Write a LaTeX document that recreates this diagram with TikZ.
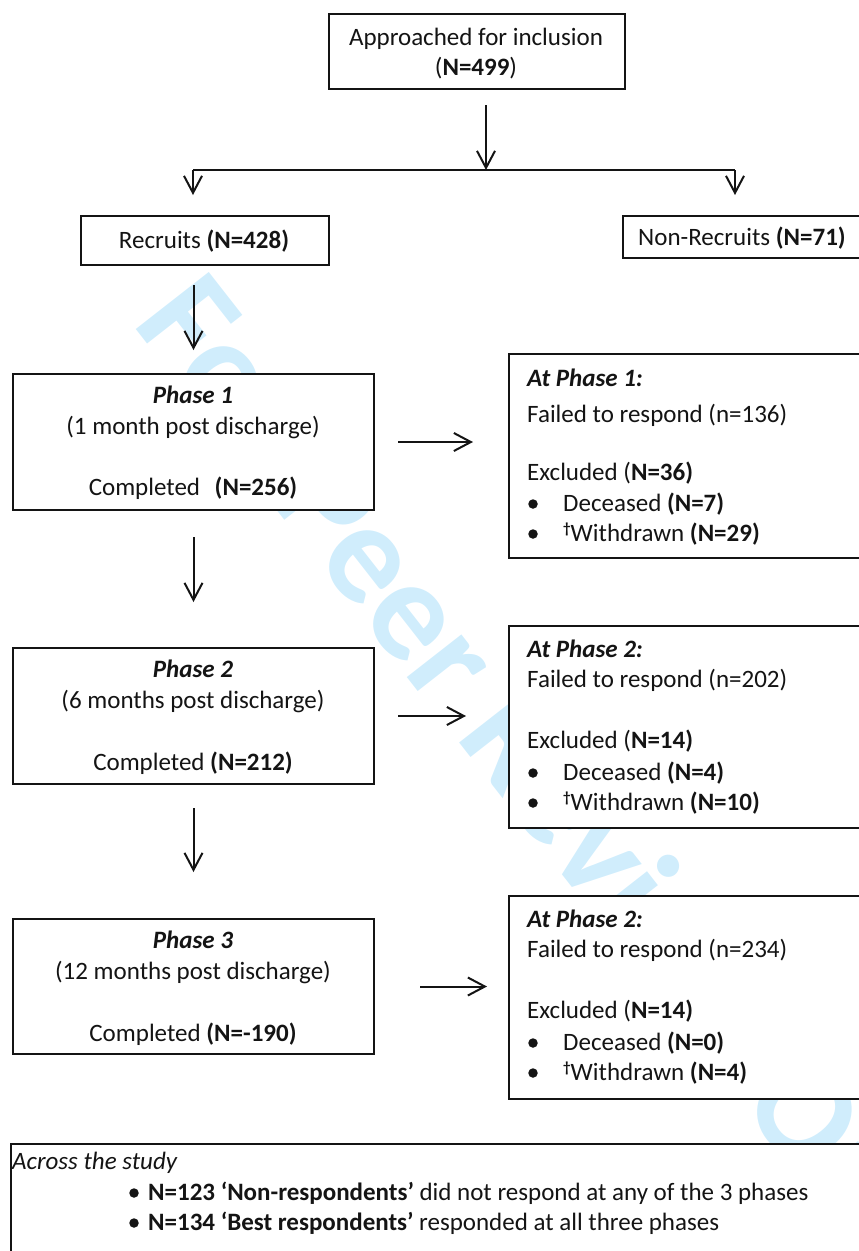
\documentclass[tikz,border=0pt]{standalone}
\usepackage{fontspec}
\setmainfont{Carlito}
\usetikzlibrary{arrows.meta}
\definecolor{ink}{RGB}{20,20,20}
\definecolor{wmblue}{RGB}{208,237,252}
\newcommand{\dagmark}{\raisebox{8pt}{\fontsize{15}{15}\selectfont\bfseries †}}

\begin{document}
\begin{tikzpicture}[x=1pt,y=-1pt,
  box/.style={draw=ink, line width=2pt, fill=white, inner sep=0pt, anchor=north west},
  txt/.style={inner sep=0pt, anchor=base, text=ink, font=\fontsize{25}{30}\selectfont},
  ltxt/.style={txt, anchor=base west},
  arr/.style={draw=ink, line width=2pt, -{Straight Barb[length=17pt,width=18pt,line width=2pt]}},
  dot/.style={circle, fill=ink, inner sep=0pt, minimum size=9.5pt},
  wm/.style={inner sep=0pt, text=wmblue, font=\fontsize{143}{143}\selectfont\bfseries}
]
\useasboundingbox (0,0) rectangle (859,1251);
\clip (0,0) rectangle (859,1251);

% watermark behind everything
\node[wm, rotate=-52, anchor=base west] (wmark) at (131,323) {For Peer Review Only};

% boxes
\node[box, minimum width=296pt, minimum height=75pt]  (appr)   at (328,13)   {};
\node[box, minimum width=248pt, minimum height=49pt]  (rec)    at (80,215)   {};
\node[box, minimum width=250pt, minimum height=42pt]  (nonrec) at (622,215)  {};
\node[box, minimum width=361pt, minimum height=136pt] (p1)     at (12,373)   {};
\node[box, minimum width=370pt, minimum height=204pt] (a1)     at (508,353)  {};
\node[box, minimum width=361pt, minimum height=136pt] (p2)     at (12,647)   {};
\node[box, minimum width=370pt, minimum height=202pt] (a2)     at (508,625)  {};
\node[box, minimum width=361pt, minimum height=135pt] (p3)     at (12,918)   {};
\node[box, minimum width=370pt, minimum height=203pt] (a3)     at (508,895)  {};
\node[box, minimum width=880pt, minimum height=150pt] (study)  at (10,1143)  {};

% top box
\node[txt] (apprA) at (476,45) {Approached for inclusion};
\node[txt] (apprB) at (476,75) {(\textbf{N=499})};

% recruitment split
\node[txt]  (recT)    at (204,248) {Recruits \textbf{(N=428)}};
\node[ltxt] (nonrecT) at (638,245) {Non-Recruits \textbf{(N=71)}};

% phase boxes
\node[txt] (p1a) at (193,403) {\textbf{\textit{Phase 1}}};
\node[txt] (p1b) at (193,434) {(1 month post discharge)};
\node[txt] (p1c) at (193,495) {Completed\hspace{9pt} \textbf{(N=256)}};

\node[txt] (p2a) at (193,677) {\textbf{\textit{Phase 2}}};
\node[txt] (p2b) at (193,708) {(6 months post discharge)};
\node[txt] (p2c) at (193,770) {Completed \textbf{(N=212)}};

\node[txt] (p3a) at (193,948) {\textbf{\textit{Phase 3}}};
\node[txt] (p3b) at (193,979) {(12 months post discharge)};
\node[txt] (p3c) at (193,1041) {Completed \textbf{(N=-190)}};

% losses at each phase
\node[ltxt] (a1a) at (527,386) {\textbf{\textit{At Phase 1:}}};
\node[ltxt] (a1b) at (527,422) {Failed to respond (n=136)};
\node[ltxt] (a1c) at (527,480) {Excluded (\textbf{N=36)}};
\node[dot]  (a1d0) at (533,504) {};
\node[ltxt] (a1d) at (563,511) {Deceased \textbf{(N=7)}};
\node[dot]  (a1e0) at (533,534) {};
\node[ltxt] (a1e) at (563,541) {\dagmark Withdrawn \textbf{(N=29)}};

\node[ltxt] (a2a) at (527,657) {\textbf{\textit{At Phase 2:}}};
\node[ltxt] (a2b) at (527,687) {Failed to respond (n=202)};
\node[ltxt] (a2c) at (527,748) {Excluded (\textbf{N=14)}};
\node[dot]  (a2d0) at (533,773) {};
\node[ltxt] (a2d) at (563,780) {Deceased \textbf{(N=4)}};
\node[dot]  (a2e0) at (533,803) {};
\node[ltxt] (a2e) at (563,810) {\dagmark Withdrawn \textbf{(N=10)}};

\node[ltxt] (a3a) at (527,927) {\textbf{\textit{At Phase 2:}}};
\node[ltxt] (a3b) at (527,957) {Failed to respond (n=234)};
\node[ltxt] (a3c) at (527,1018) {Excluded (\textbf{N=14)}};
\node[dot]  (a3d0) at (533,1043) {};
\node[ltxt] (a3d) at (563,1050) {Deceased \textbf{(N=0)}};
\node[dot]  (a3e0) at (533,1073) {};
\node[ltxt] (a3e) at (563,1080) {\dagmark Withdrawn \textbf{(N=4)}};

% summary across the study
\node[ltxt] (stA) at (12,1169) {\textit{Across the study}};
\node[dot]  (stB0) at (134,1193) {};
\node[ltxt] (stB) at (148,1200) {\textbf{N=123 ‘Non-respondents’} did not respond at any of the 3 phases};
\node[dot]  (stC0) at (134,1223) {};
\node[ltxt] (stC) at (148,1230) {\textbf{N=134 ‘Best respondents’} responded at all three phases};

% connectors
\coordinate (split)  at (486,170);
\coordinate (splitL) at (193,170);
\coordinate (splitR) at (735,170);
\draw[arr, shorten <=15pt] (appr.south -| split) -- (split);
\draw[draw=ink, line width=2pt] (splitL) -- (splitR);
\draw[arr, shorten >=20pt] (splitL) -- (splitL |- rec.north);
\draw[arr, shorten >=20pt] (splitR) -- (splitR |- nonrec.north);

\draw[arr, shorten <=19pt, shorten >=23pt] (rec.south -| p1.north) -- (p1.north);
\draw[arr, shorten <=26pt, shorten >=45pt] (p1.south) -- (p2.north);
\draw[arr, shorten <=23pt, shorten >=46pt] (p2.south) -- (p3.north);

\draw[arr, shorten <=23pt, shorten >=35pt] (p1.east) -- (p1.east -| a1.west);
\draw[arr, shorten <=23pt, shorten >=42pt] (p2.east) -- (p2.east -| a2.west);
\draw[arr, shorten <=45pt, shorten >=21pt] (p3.east) -- (p3.east -| a3.west);
\end{tikzpicture}
\end{document}
